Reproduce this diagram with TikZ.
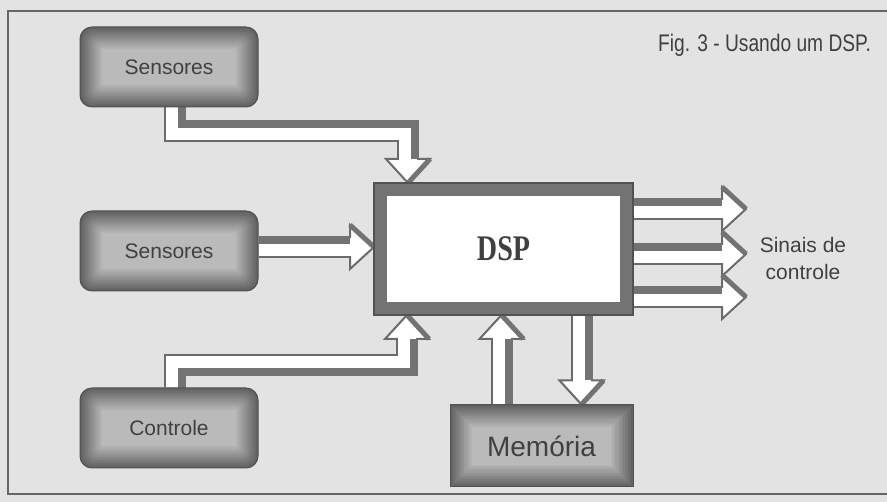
\documentclass[tikz,border=0pt]{standalone}
\usepackage{fontspec}
\newfontfamily\lbl{Liberation Sans}
\newfontfamily\figf[FakeStretch=0.80]{Liberation Sans}
\newfontfamily\dspf[FakeStretch=0.78]{Liberation Serif}
\usetikzlibrary{calc}
\pgfdeclarelayer{bg}
\pgfdeclarelayer{arrows}
\pgfsetlayers{bg,arrows,main}
\definecolor{ln}{gray}{0.42}
\definecolor{band}{gray}{0.45}
\definecolor{txt}{gray}{0.25}
\definecolor{paper}{gray}{0.89}
\definecolor{dspc}{gray}{0.45}

\tikzset{
  glow/.style={draw=black!68, line width=1pt, fill=black!62, rounded corners=#1pt,
    minimum width=178pt, minimum height=80pt, inner sep=0pt,
    font=\lbl\fontsize{21}{25}\selectfont, text=txt,
    path picture={
      \foreach \k in {1,...,14}{
        \pgfmathsetmacro\d{\k*1.6}
        \pgfmathtruncatemacro\c{62-\k*2.5}
        \pgfmathsetmacro\r{max(0,#1-\k*0.8)}
        \fill[black!\c, rounded corners=\r pt]
          ($(path picture bounding box.south west)+(\d pt,\d pt)$) rectangle
          ($(path picture bounding box.north east)+(-\d pt,-\d pt)$);
      }}},
  shaftout/.style={draw=ln, line width=22pt, line join=miter},
  shaftin/.style={draw=white, line width=18pt, line join=miter},
  shaftband/.style={draw=band, line width=8pt, line join=miter},
  headA/.pic={
    \fill[white] (0,-22) -- (24,0) -- (0,22) -- cycle;
    \draw[ln, line width=2pt, line join=miter] (0,-22) -- (24,0) -- (0,22) -- cycle;
    \draw[band, line width=5pt] (0,-22) -- (24,0);
  },
  headB/.pic={
    \fill[white] (0,-22) -- (24,0) -- (0,22) -- cycle;
    \draw[ln, line width=2pt, line join=miter] (0,-22) -- (24,0) -- (0,22) -- cycle;
    \draw[band, line width=5pt] (0,22) -- (24,0);
  },
}
% #1 path, #2 band shift, #3 band shorten, #4 head pic, #5 rotation, #6 head base
\newcommand\harrow[6]{%
  \draw[shaftout] #1;
  \draw[shaftin] #1;
  \pic[rotate=#5] at #6 {#4};
  \draw[shaftin, shorten >=-5pt] #1;
  \draw[shaftband, transform canvas={shift={#2}}, shorten >=#3] #1;
}

\begin{document}
\begin{tikzpicture}[x=1pt,y=-1pt]
\useasboundingbox (0,0) rectangle (887,502);
\begin{pgfonlayer}{bg}
  \fill[paper] (0,0) rectangle (887,502);
  \draw[black!60, line width=1.3pt] (8,11) rectangle (900,494);
\end{pgfonlayer}

\node[glow=12] (s1) at (169,67) {Sensores};
\node[glow=12] (s2) at (169,251) {Sensores};
\node[glow=12] (ct) at (169,428) {Controle};
\node[glow=0, minimum width=183pt, minimum height=82pt,
      font=\lbl\fontsize{28}{32}\selectfont] (mem) at (541.5,446) {Memória};
\node[draw=dspc, line width=13pt, fill=white, minimum width=246pt, minimum height=119pt,
      inner sep=0pt, font=\dspf\bfseries\fontsize{36}{40}\selectfont, text=txt]
      (dsp) at (503.5,249) {DSP};
\draw[black!68, line width=1.2pt] (dsp.north west) rectangle (dsp.south east);

\node[font=\figf\fontsize{24}{28}\selectfont, text=txt, anchor=base west, inner sep=0pt] (fig) at (658,52) {Fig. 3 - Usando um DSP.};
\node[font=\lbl\fontsize{21}{27}\selectfont, align=center, text=txt] (sig) at (803,258) {Sinais de\\controle};

\coordinate (a1b) at ($(dsp.north west)+(34,-24)$);
\coordinate (a2b) at ($(s2.east -| dsp.west)+(-24,-4)$);
\coordinate (a3b) at ($(dsp.south west)+(33,24)$);
\coordinate (m1) at ($(mem.north)+(-40,0)$);
\coordinate (m2) at ($(mem.north)+(40,0)$);
\coordinate (a4b) at ($(m1 |- dsp.south)+(0,24)$);
\coordinate (a5b) at ($(m2)+(0,-24)$);
\coordinate (o1) at ($(dsp.east)+(113,-40)$);
\coordinate (o2) at ($(dsp.east)+(113,5)$);
\coordinate (o3) at ($(dsp.east)+(113,48)$);
\coordinate (o1b) at ($(o1)+(-24,0)$);
\coordinate (o2b) at ($(o2)+(-24,0)$);
\coordinate (o3b) at ($(o3)+(-24,0)$);

\begin{pgfonlayer}{arrows}
  \harrow{($(s1.south)+(6,0)$) |- ($(dsp.north west)+(34,-52)$) -- (a1b)}{(7pt,7pt)}{-7pt}{headA}{-90}{(a1b)}
  \harrow{($(s2.east)+(0,-4)$) -- (a2b)}{(0pt,7pt)}{0pt}{headA}{0}{(a2b)}
  \harrow{($(ct.north)+(6,0)$) |- ($(dsp.south west)+(33,50)$) -- (a3b)}{(7pt,-7pt)}{-7pt}{headB}{90}{(a3b)}
  \harrow{(m1) -- (a4b)}{(7pt,0pt)}{0pt}{headB}{90}{(a4b)}
  \harrow{(m2 |- dsp.south) -- (a5b)}{(7pt,0pt)}{0pt}{headA}{-90}{(a5b)}
  \harrow{(dsp.east |- o1) -- (o1b)}{(0pt,7pt)}{0pt}{headA}{0}{(o1b)}
  \harrow{(dsp.east |- o2) -- (o2b)}{(0pt,7pt)}{0pt}{headA}{0}{(o2b)}
  \harrow{(dsp.east |- o3) -- (o3b)}{(0pt,7pt)}{0pt}{headA}{0}{(o3b)}
\end{pgfonlayer}
\end{tikzpicture}
\end{document}
